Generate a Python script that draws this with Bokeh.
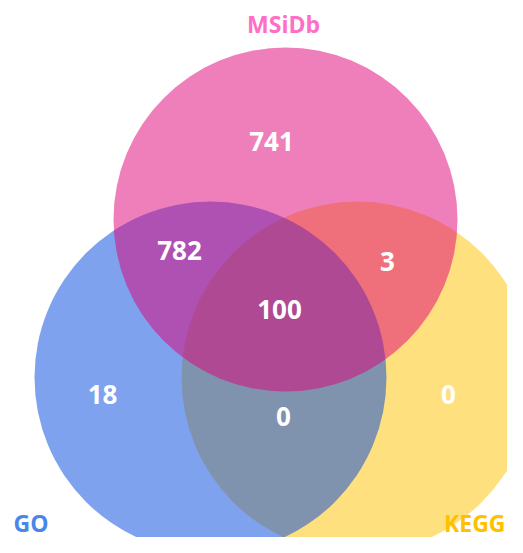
from bokeh.plotting import figure
from bokeh.models import Range1d, ColumnDataSource
from bokeh.core.properties import value
from bokeh.embed import file_html
from bokeh.resources import INLINE

# ---- data ----
set_names = ["MSiDb", "GO", "KEGG"]
set_label_colors = ["#FF6EC7", "#4A86E8", "#FFC000"]
set_fill_colors = ["#DF0077", "#0045DD", "#FFC100"]
region_names = ["MSiDb only", "MSiDb&GO", "MSiDb&KEGG", "All", "GO only", "GO&KEGG", "KEGG only"]
region_counts = [741, 782, 3, 100, 18, 0, 0]

# ---- layout (picture pixel coordinates) ----
circle_x = [285, 210, 357]
circle_y = [219, 377, 377]
circle_r = [172, 176, 176]
label_x = [283, 13, 505]
label_y = [23, 522, 522]
label_align = ["center", "left", "right"]
region_x = [271, 179, 387, 279, 102, 283, 448]
region_y = [141, 250, 261, 309, 394, 416, 394]

W, H = 507, 537
p = figure(width=W, height=H, output_backend="svg", toolbar_location=None,
           x_range=Range1d(0, W), y_range=Range1d(H, 0),
           min_border=0, outline_line_color=None,
           x_axis_location=None, y_axis_location=None)
p.grid.visible = False
p.background_fill_color = "white"
p.border_fill_color = "white"

# draw order: KEGG, GO, MSiDb
for i in [2, 1, 0]:
    p.circle(x=[circle_x[i]], y=[circle_y[i]], radius=circle_r[i],
             fill_color=set_fill_colors[i], fill_alpha=0.5, line_color=None)

src = ColumnDataSource(dict(x=region_x, y=region_y, t=[str(v) for v in region_counts]))
p.text(x="x", y="y", text="t", source=src, text_color="white",
       text_font=value("Open Sans"), text_font_style="bold",
       text_font_size="26px", text_align="center", text_baseline="middle")

lsrc = ColumnDataSource(dict(x=label_x, y=label_y, t=set_names, c=set_label_colors, a=label_align))
p.text(x="x", y="y", text="t", source=lsrc, text_color="c", text_align="a",
       text_font=value("Open Sans"), text_font_style="bold",
       text_font_size="23px", text_baseline="middle")

open("out.html", "w").write(file_html(p, INLINE))
